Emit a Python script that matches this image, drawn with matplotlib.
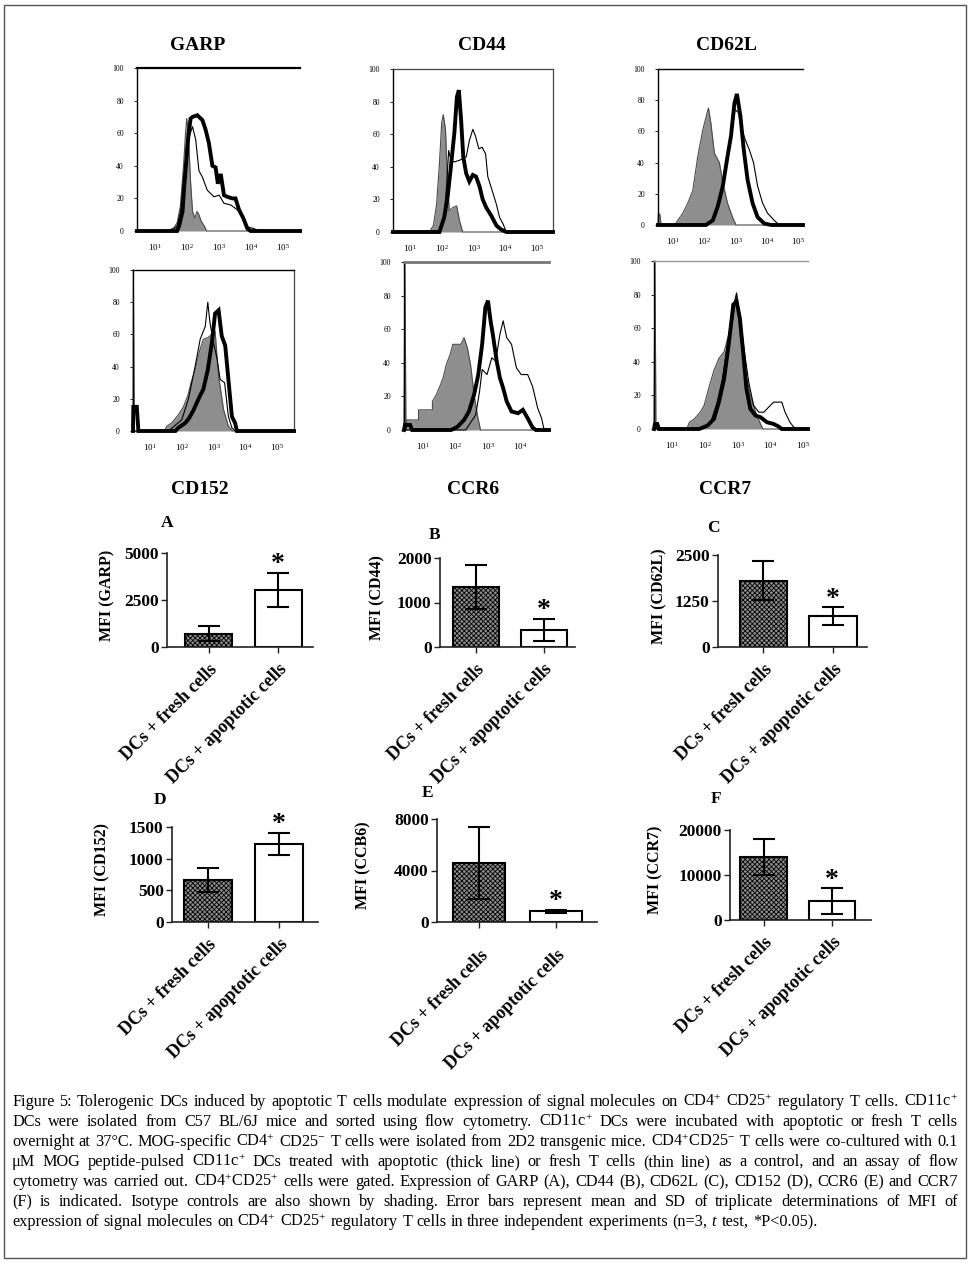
import numpy as np
import matplotlib.pyplot as plt
from matplotlib.patches import Rectangle
from matplotlib.ticker import NullLocator

plt.rcParams['font.family'] = ['Liberation Serif', 'DejaVu Serif']
plt.rcParams['mathtext.fontset'] = 'custom'
plt.rcParams['mathtext.rm'] = 'Liberation Serif'
plt.rcParams['mathtext.it'] = 'Liberation Serif:italic'
plt.rcParams['hatch.linewidth'] = 0.6
plt.rcParams['hatch.color'] = '#4a4a4a'

W, H = 970, 1263

# ---- flow cytometry histograms: (log10 intensity, % of max) ----
GARP_ISO = [(1.40, 0), (1.6, 2), (1.7, 5), (1.8, 15), (1.9, 40), (1.97, 62), (2.0, 69), (2.05, 60),
            (2.12, 30), (2.18, 12), (2.25, 8), (2.32, 12), (2.38, 10), (2.45, 6), (2.55, 3), (2.62, 0)]
GARP_FRESH = [(1.5, 0), (1.7, 3), (1.81, 12), (1.92, 35), (2.04, 56), (2.18, 64), (2.28, 56), (2.38, 37),
              (2.49, 33), (2.64, 25), (2.85, 21), (3.01, 22), (3.16, 17), (3.37, 16), (3.58, 13),
              (3.73, 9), (3.89, 2.5), (4.09, 1.5), (4.25, 0)]
GARP_APOP = [(1.70, 0), (1.76, 3), (1.87, 12), (1.92, 27), (2.04, 56), (2.12, 69), (2.18, 70), (2.33, 71),
             (2.49, 68), (2.59, 62), (2.69, 54), (2.80, 40), (2.90, 39), (2.97, 29), (3.06, 35), (3.16, 22),
             (3.26, 21), (3.42, 20), (3.52, 20), (3.63, 13), (3.76, 8), (3.89, 1.5), (3.99, 0)]

CD44_ISO = [(1.61, 0), (1.74, 4), (1.84, 17), (1.93, 42), (2.0, 67), (2.05, 72), (2.12, 63), (2.18, 32),
            (2.24, 13), (2.35, 15), (2.47, 16), (2.56, 7), (2.66, 0)]
CD44_FRESH = [(1.95, 0), (2.08, 9), (2.16, 30), (2.22, 50), (2.29, 44), (2.40, 43), (2.56, 44), (2.77, 46),
              (2.87, 56), (2.98, 63), (3.06, 59), (3.17, 51), (3.27, 52), (3.38, 48), (3.45, 34),
              (3.61, 24), (3.72, 17), (3.82, 9), (3.93, 5), (4.03, 0)]
CD44_APOP = [(1.93, 0), (2.08, 9), (2.19, 22), (2.29, 40), (2.40, 61), (2.48, 83), (2.54, 87), (2.61, 69),
             (2.68, 46), (2.77, 36), (2.87, 31), (2.98, 35), (3.08, 34), (3.19, 28), (3.29, 20), (3.40, 15),
             (3.56, 10), (3.72, 4), (3.87, 1.5), (4.03, 0)]

CD62L_ISO = [(0.53, 7), (0.58, 7), (0.62, 0), (1.05, 0), (1.15, 3), (1.31, 7.5), (1.47, 14), (1.63, 22),
             (1.79, 44), (1.95, 61), (2.13, 75), (2.21, 65), (2.32, 46), (2.48, 40), (2.59, 27),
             (2.74, 14), (2.90, 5), (3.01, 0)]
CD62L_FRESH = [(2.11, 0), (2.32, 5), (2.53, 18), (2.69, 35), (2.85, 55), (2.98, 74), (3.09, 72),
               (3.19, 62), (3.30, 55), (3.44, 48), (3.57, 40), (3.70, 25), (3.86, 14), (4.02, 7.5),
               (4.23, 3), (4.39, 0)]
CD62L_APOP = [(2.05, 0), (2.27, 3), (2.43, 12), (2.59, 25), (2.74, 44), (2.85, 57), (2.96, 78), (3.04, 84),
              (3.15, 70), (3.26, 48), (3.38, 29), (3.54, 14), (3.70, 5), (3.91, 1), (4.13, 0)]

CD152_ISO = [(0.47, 100), (0.50, 0), (1.45, 0), (1.53, 3), (1.68, 5), (1.89, 10), (2.05, 15), (2.19, 22),
             (2.29, 30), (2.42, 38), (2.58, 51), (2.68, 57), (2.82, 58), (2.95, 60), (3.05, 62), (3.16, 34),
             (3.32, 13), (3.47, 3), (3.60, 0)]
CD152_FRESH = [(1.58, 0), (2.0, 7), (2.21, 20), (2.42, 40), (2.58, 57), (2.74, 65), (2.82, 80), (2.89, 67),
               (3.0, 55), (3.11, 45), (3.21, 32), (3.35, 30), (3.47, 9), (3.58, 2), (3.68, 0)]
CD152_APOP = [(0.47, 15), (0.58, 15), (0.63, 0), (1.80, 0), (1.89, 2), (2.11, 5), (2.23, 8), (2.37, 13),
              (2.53, 20), (2.68, 26), (2.82, 38), (2.95, 55), (3.05, 73), (3.16, 75), (3.26, 59),
              (3.37, 53), (3.47, 32), (3.58, 9), (3.68, 5), (3.74, 0)]

CCR6_ISO = [(0.44, 100), (0.47, 0), (0.50, 6), (0.86, 6), (0.86, 12), (1.29, 12), (1.29, 17), (1.41, 21),
            (1.52, 26), (1.62, 31), (1.72, 39), (1.84, 45), (1.92, 51), (2.17, 51), (2.27, 55), (2.37, 49),
            (2.47, 39), (2.58, 21), (2.68, 9), (2.78, 0)]
CCR6_FRESH = [(2.32, 0), (2.63, 9), (2.75, 23), (2.83, 36), (2.98, 33), (3.13, 43), (3.25, 41), (3.38, 57),
              (3.48, 65), (3.59, 55), (3.74, 51), (3.89, 37), (4.04, 33), (4.24, 33), (4.39, 26),
              (4.55, 13), (4.67, 7), (4.75, 0)]
CCR6_APOP = [(0.44, 3), (0.60, 3), (0.66, 0), (1.87, 0), (2.07, 2), (2.27, 6), (2.42, 11), (2.58, 21),
             (2.71, 33), (2.83, 51), (2.93, 73), (3.01, 77), (3.09, 65), (3.16, 57), (3.28, 41), (3.38, 31),
             (3.48, 25), (3.59, 17), (3.74, 11), (3.94, 10), (4.09, 12), (4.24, 7), (4.39, 1.5), (4.49, 0)]

CCR7_ISO = [(0.48, 100), (0.51, 0), (1.45, 0), (1.53, 4), (1.68, 6), (1.86, 10), (1.98, 14), (2.13, 25),
            (2.28, 35), (2.43, 42), (2.59, 46), (2.74, 57), (2.87, 65), (2.97, 80), (3.09, 54), (3.24, 34),
            (3.39, 20), (3.55, 10), (3.70, 3), (3.78, 0)]
CCR7_FRESH = [(1.93, 0), (2.18, 4), (2.38, 16), (2.54, 30), (2.69, 50), (2.84, 70), (2.97, 81), (3.09, 64),
              (3.21, 46), (3.34, 28), (3.49, 14), (3.65, 10), (3.80, 10), (3.95, 13), (4.10, 16),
              (4.35, 16), (4.45, 10), (4.60, 4), (4.70, 1.5), (4.80, 0)]
CCR7_APOP = [(0.48, 3), (0.55, 3), (0.60, 0), (1.83, 0), (2.08, 2), (2.28, 6), (2.43, 16), (2.59, 30),
             (2.74, 52), (2.87, 74), (2.97, 76), (3.07, 66), (3.17, 46), (3.27, 24), (3.39, 12), (3.55, 8),
             (3.70, 7), (3.90, 4), (4.10, 3), (4.25, 1.5), (4.35, 0)]

hist_titles = ['GARP', 'CD44', 'CD62L', 'CD152', 'CCR6', 'CCR7']
hist_iso = [GARP_ISO, CD44_ISO, CD62L_ISO, CD152_ISO, CCR6_ISO, CCR7_ISO]
hist_fresh = [GARP_FRESH, CD44_FRESH, CD62L_FRESH, CD152_FRESH, CCR6_FRESH, CCR7_FRESH]
hist_apop = [GARP_APOP, CD44_APOP, CD62L_APOP, CD152_APOP, CCR6_APOP, CCR7_APOP]

# ---- MFI bar charts ----
groups = ['DCs + fresh cells', 'DCs + apoptotic cells']
bar_letters = ['A', 'B', 'C', 'D', 'E', 'F']
bar_ylabels = ['MFI (GARP)', 'MFI (CD44)', 'MFI (CD62L)', 'MFI (CD152)', 'MFI (CCB6)', 'MFI (CCR7)']
garp_mfi, garp_sd = [714, 3036], [395, 893]
cd44_mfi, cd44_sd = [1348, 382], [505, 247]
cd62l_mfi, cd62l_sd = [1800, 836], [536, 240]
cd152_mfi, cd152_sd = [660, 1234], [190, 172]
ccr6_mfi, ccr6_sd = [4615, 820], [2790, 130]
ccr7_mfi, ccr7_sd = [14010, 4160], [3950, 2850]
bar_mfi = [garp_mfi, cd44_mfi, cd62l_mfi, cd152_mfi, ccr6_mfi, ccr7_mfi]
bar_sd = [garp_sd, cd44_sd, cd62l_sd, cd152_sd, ccr6_sd, ccr7_sd]
bar_yticks = [[0, 2500, 5000], [0, 1000, 2000], [0, 1250, 2500],
              [0, 500, 1000, 1500], [0, 4000, 8000], [0, 10000, 20000]]

caption_lines = [
    r"Figure 5: Tolerogenic DCs induced by apoptotic T cells modulate expression of signal molecules on CD4$^{+}$ CD25$^{+}$ regulatory T cells. CD11c$^{+}$",
    r"DCs were isolated from C57 BL/6J mice and sorted using flow cytometry. CD11c$^{+}$ DCs were incubated with apoptotic or fresh T cells",
    r"overnight at 37°C. MOG-specific CD4$^{+}$ CD25$^{-}$ T cells were isolated from 2D2 transgenic mice. CD4$^{+}$CD25$^{-}$ T cells were co-cultured with 0.1",
    r"μM MOG peptide-pulsed CD11c$^{+}$ DCs treated with apoptotic (thick line) or fresh T cells (thin line) as a control, and an assay of flow",
    r"cytometry was carried out. CD4$^{+}$CD25$^{+}$ cells were gated. Expression of GARP (A), CD44 (B), CD62L (C), CD152 (D), CCR6 (E) and CCR7",
    r"(F) is indicated. Isotype controls are also shown by shading. Error bars represent mean and SD of triplicate determinations of MFI of",
    r"expression of signal molecules on CD4$^{+}$ CD25$^{+}$ regulatory T cells in three independent experiments (n=3, $\mathit{t}$ test, *P<0.05).",
]


def rect(l, t, r, b):
    return [l / W, 1 - b / H, (r - l) / W, (b - t) / H]


fig = plt.figure(figsize=(W / 100, H / 100), dpi=100)
fig.patches.append(Rectangle((4 / W, 5 / H), 962 / W, 1253 / H, transform=fig.transFigure,
                             fill=False, edgecolor='#555555', lw=1.0))

# histogram panels: axes box in pixels, log x-limits, spine style
hist_boxes = [(137, 68, 300, 231), (393, 69, 553, 232), (658, 69, 803, 225),
              (133, 270, 294, 431), (404, 262, 549, 430), (654, 261, 808, 429)]
hist_xlims = [(0.45, 5.53), (0.47, 5.5), (0.52, 5.15), (0.46, 5.54), (0.41, 4.9), (0.45, 5.15)]
hist_right = [False, True, False, True, False, False]
hist_top = [('black', 1.6), ('#444444', 0.9), ('black', 1.0), ('black', 1.0), ('#777777', 2.0), ('#999999', 1.0)]
title_pos = [(198, 45), (482, 45), (726, 45), (200, 489), (473, 489), (725, 489)]

for i in range(6):
    ax = fig.add_axes(rect(*hist_boxes[i]))
    lo, hi = hist_xlims[i]
    ax.set_xscale('log')
    ax.set_xlim(10 ** lo, 10 ** hi)
    ax.set_ylim(0, 100)
    ax.set_facecolor('none')

    iso = np.array(hist_iso[i])
    ix = np.concatenate([[lo], iso[:, 0], [hi]])
    iy = np.concatenate([[0], iso[:, 1], [0]])
    ax.fill_between(10 ** ix, iy, 0, color='#8e8e8e', lw=0, zorder=1)
    ax.plot(10 ** ix, iy, color='#4a4a4a', lw=0.8, zorder=2, clip_on=False)

    fr = np.array(hist_fresh[i])
    ax.plot(10 ** np.concatenate([[lo], fr[:, 0], [hi]]), np.concatenate([[0], fr[:, 1], [0]]),
            color='black', lw=0.8, zorder=3, clip_on=False)
    ap = np.array(hist_apop[i])
    ax.plot(10 ** np.concatenate([[lo], ap[:, 0], [hi]]), np.concatenate([[0], ap[:, 1], [0]]),
            color='black', lw=2.8, zorder=4, clip_on=False, solid_joinstyle='miter')

    ax.spines['bottom'].set_visible(False)
    ax.spines['right'].set_visible(hist_right[i])
    ax.spines['right'].set_linewidth(0.9)
    ax.spines['right'].set_color('#444444')
    ax.spines['top'].set_color(hist_top[i][0])
    ax.spines['top'].set_linewidth(hist_top[i][1])
    ax.spines['left'].set_linewidth(1.0)

    ax.set_yticks(range(0, 101, 20))
    ax.set_yticklabels([str(v) for v in range(0, 101, 20)])
    ax.tick_params(axis='y', length=2.5, width=0.6, labelsize=5.5, pad=7)
    dec = [k for k in range(1, 6) if lo <= k <= hi]
    ax.set_xticks([10 ** k for k in dec])
    ax.set_xticklabels(['$10^{%d}$' % k for k in dec])
    ax.xaxis.set_minor_locator(NullLocator())
    ax.tick_params(axis='x', length=0, labelsize=6.5, pad=8)

    fig.text(title_pos[i][0] / W, 1 - title_pos[i][1] / H, hist_titles[i], fontsize=14,
             fontweight='bold', ha='center', va='center')

# bar panels: axes box in pixels (spine x, top tick y, axis end x, zero y), x-limits
bar_boxes = [(167, 553, 313, 647), (440, 558, 575, 647), (718, 555, 867, 647),
             (172, 827, 318, 922), (437, 819, 597, 922), (730, 830, 871, 920)]
bar_xlims = [(-0.60, 1.50), (-0.53, 1.46), (-0.65, 1.49), (-0.51, 1.55), (-0.55, 1.53), (-0.49, 1.57)]
letter_pos = [(167, 523), (435, 535), (713, 528), (160, 800), (428, 793), (716, 799)]
ylabel_x = [107, 377, 659, 102, 363, 655]
xlabel_pad = [6, 6, 6, 6, 14, 6]

for i in range(6):
    l, t, r, b = bar_boxes[i]
    ax = fig.add_axes(rect(l, t, r, b))
    ax.set_facecolor('none')
    mfi, sd = bar_mfi[i], bar_sd[i]
    bars = ax.bar([0, 1], mfi, width=0.68, color=['#8c8c8c', 'white'], edgecolor='black', lw=1.5, zorder=2)
    bars[0].set_hatch('xxxxxxx')
    ax.errorbar([0, 1], mfi, yerr=sd, fmt='none', ecolor='black', elinewidth=1.5, capsize=8,
                capthick=1.5, zorder=3, clip_on=False)
    ax.annotate('*', (1, mfi[1] + sd[1]), xytext=(0, -3), textcoords='offset points', ha='center',
                va='bottom', fontsize=20, fontweight='bold', annotation_clip=False)
    ax.set_xlim(*bar_xlims[i])
    ax.set_ylim(0, bar_yticks[i][-1])
    ax.spines['top'].set_visible(False)
    ax.spines['right'].set_visible(False)
    for s in ('left', 'bottom'):
        ax.spines[s].set_linewidth(1.2)
        ax.spines[s].set_color('#222222')
    ax.set_yticks(bar_yticks[i])
    ax.set_yticklabels([str(v) for v in bar_yticks[i]], fontsize=12.5, fontweight='bold')
    ax.set_xticks([0, 1])
    ax.set_xticklabels(groups, fontsize=13, fontweight='bold', rotation=45, ha='right',
                       rotation_mode='anchor')
    ax.tick_params(axis='both', length=4, width=1.0, color='#222222')
    ax.tick_params(axis='x', pad=xlabel_pad[i])
    ax.tick_params(axis='y', pad=2)
    fig.text(ylabel_x[i] / W, 1 - ((t + b) / 2 - 5) / H, bar_ylabels[i], rotation=90, fontsize=11.5,
             fontweight='bold', ha='center', va='center')
    fig.text(letter_pos[i][0] / W, 1 - letter_pos[i][1] / H, bar_letters[i], fontsize=12.5,
             fontweight='bold', ha='center', va='center')

# caption, justified between x=12 and x=958
renderer = fig.canvas.get_renderer()
cap_left, cap_right = 12, 958
cap_size = 11.7


def text_width(s):
    tt = fig.text(0, 0, s, fontsize=cap_size)
    w = tt.get_window_extent(renderer).width
    tt.remove()
    return w


space_w = text_width('a a') - text_width('aa')
for k, line in enumerate(caption_lines):
    words = line.split(' ')
    y = 1 - (1106 + 20 * k) / H
    widths = [text_width(w) for w in words]
    if k < len(caption_lines) - 1:
        gap = (cap_right - cap_left - sum(widths)) / (len(words) - 1)
    else:
        gap = space_w
    x = cap_left
    for w, wd in zip(words, widths):
        fig.text(x / W, y, w, fontsize=cap_size, ha='left', va='baseline')
        x += wd + gap

fig.savefig('out.png', dpi=100)
